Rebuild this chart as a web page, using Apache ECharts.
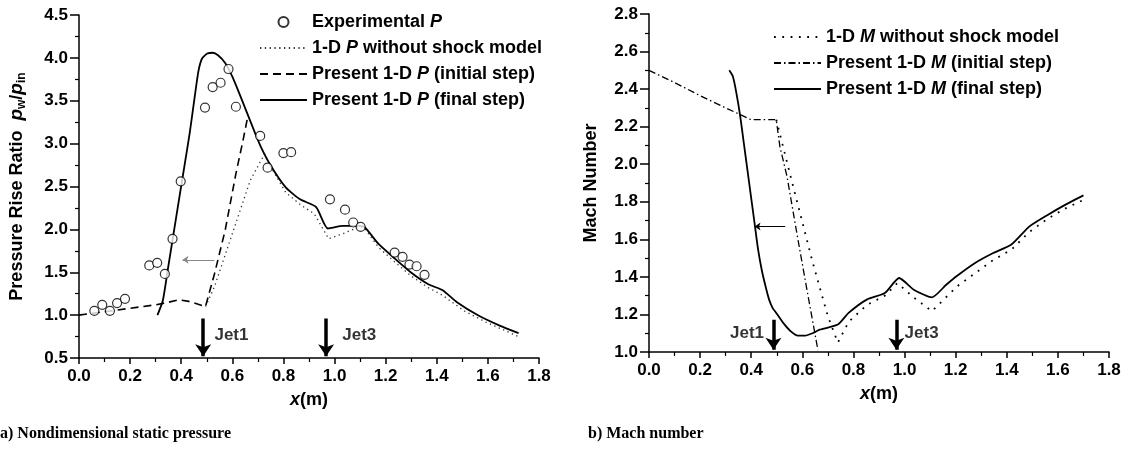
<!DOCTYPE html>
<html><head><meta charset="utf-8">
<script src="https://cdn.jsdelivr.net/npm/echarts/dist/echarts.min.js"></script>
<style>html,body{margin:0;padding:0;background:#fff}#c{width:1125px;height:454px}</style>
</head><body><div id="c"></div>
<script>
// ---------- (a) Nondimensional static pressure ----------
const expP = [[0.060,1.05],[0.091,1.12],[0.121,1.05],[0.149,1.14],[0.180,1.19],[0.275,1.58],[0.306,1.61],[0.336,1.48],[0.366,1.89],[0.398,2.56],[0.493,3.42],[0.523,3.66],[0.554,3.71],[0.585,3.87],[0.614,3.43],[0.709,3.09],[0.738,2.72],[0.800,2.89],[0.830,2.90],[0.982,2.35],[1.041,2.23],[1.073,2.08],[1.102,2.03],[1.235,1.73],[1.266,1.68],[1.293,1.59],[1.321,1.57],[1.352,1.47]];
const pNoShock = [[0.495,1.10],[0.53,1.33],[0.60,1.95],[0.67,2.57],[0.726,2.88],[0.76,2.68],[0.809,2.43],[0.87,2.28],[0.921,2.18],[0.977,1.89],[1.033,1.95],[1.088,2.02],[1.116,2.02],[1.172,1.79],[1.228,1.64],[1.298,1.46],[1.367,1.32],[1.423,1.23],[1.507,1.05],[1.591,0.92],[1.72,0.75]];
const pInitial = [[0,1.0],[0.1,1.04],[0.2,1.08],[0.3,1.12],[0.35,1.15],[0.39,1.18],[0.43,1.16],[0.495,1.10],[0.53,1.48],[0.572,1.99],[0.614,2.65],[0.642,3.04],[0.66,3.31]];
const pFinal = [[0.307,1.0],[0.328,1.17],[0.349,1.56],[0.370,1.95],[0.391,2.34],[0.412,2.73],[0.433,3.12],[0.453,3.55],[0.467,3.84],[0.481,3.99],[0.502,4.05],[0.523,4.06],[0.544,4.03],[0.572,3.94],[0.600,3.78],[0.628,3.58],[0.656,3.37],[0.684,3.16],[0.712,2.96],[0.753,2.73],[0.809,2.49],[0.865,2.35],[0.928,2.26],[0.974,2.01],[1.033,2.04],[1.088,2.04],[1.116,2.03],[1.172,1.83],[1.228,1.68],[1.298,1.50],[1.367,1.36],[1.423,1.29],[1.479,1.15],[1.563,0.995],[1.646,0.878],[1.72,0.79]];
const pShiftArrow = [[0.53,1.645],[0.405,1.645]];
const pJets = [['Jet1',0.486,0.96,0.52,0.53,0.76],['Jet3',0.967,0.96,0.52,1.03,0.76]];

// ---------- (b) Mach number ----------
const mNoShock = [[0.498,2.237],[0.555,1.93],[0.64,1.48],[0.70,1.19],[0.739,1.05],[0.781,1.16],[0.852,1.25],[0.923,1.30],[0.972,1.367],[1.036,1.29],[1.107,1.217],[1.206,1.35],[1.347,1.49],[1.418,1.545],[1.489,1.64],[1.560,1.71],[1.63,1.765],[1.70,1.81]];
const mInitial = [[0,2.50],[0.1,2.435],[0.2,2.365],[0.3,2.30],[0.4,2.237],[0.498,2.237],[0.512,2.095],[0.54,1.935],[0.583,1.598],[0.625,1.279],[0.661,1.01]];
const mFinal = [[0.314,2.50],[0.328,2.468],[0.342,2.379],[0.357,2.255],[0.371,2.113],[0.385,1.971],[0.399,1.829],[0.413,1.687],[0.427,1.545],[0.441,1.438],[0.456,1.35],[0.470,1.279],[0.484,1.234],[0.498,1.208],[0.526,1.154],[0.555,1.11],[0.583,1.087],[0.611,1.087],[0.64,1.10],[0.668,1.119],[0.739,1.146],[0.781,1.208],[0.852,1.279],[0.923,1.314],[0.979,1.394],[1.036,1.332],[1.107,1.291],[1.163,1.358],[1.206,1.406],[1.276,1.474],[1.347,1.527],[1.418,1.572],[1.489,1.669],[1.560,1.73],[1.630,1.785],[1.70,1.834]];
const mShiftArrow = [[0.533,1.669],[0.413,1.669]];
const mJets = [['Jet1',0.487,1.172,1.012,0.45,1.10,'left'],['Jet3',0.968,1.172,1.012,1.0,1.10,'right']];

const namesP = ['Experimental P','1-D P without shock model','Present 1-D P (initial step)','Present 1-D P (final step)'];
const namesM = ['1-D M without shock model','Present 1-D M (initial step)','Present 1-D M (final step)'];

const FF = '"Liberation Sans", Arial, sans-serif';
const BOLD = {fontFamily: FF, fontWeight: 'bold', color: '#000'};

function richName(name){
  const parts = name.split(/(?<=\s)([PM])(?=\s|$)/);
  return parts.map((p,i)=> p==='' ? '' : (i%2 ? '{i|'+p+'}' : '{b|'+p+'}')).join('');
}

function xAxis(grid){
  return {
    gridIndex: grid, type:'value', min:0, max:1.8, interval:0.2,
    name:'{i|x}{b|(m)}', nameLocation:'middle', nameGap:33,
    nameTextStyle:{rich:{i:Object.assign({fontStyle:'italic',fontSize:18},BOLD), b:Object.assign({fontSize:18},BOLD)}},
    axisLine:{lineStyle:{color:'#000',width:1.5}},
    axisTick:{length:6,lineStyle:{color:'#000',width:1.5}},
    minorTick:{show:true,splitNumber:2,length:4,lineStyle:{color:'#000',width:1.2}},
    splitLine:{show:false},
    axisLabel:Object.assign({fontSize:17,margin:10,formatter:v=>v.toFixed(1)},BOLD)
  };
}
function yAxis(grid,min,max,interval,name,gap,rich){
  return {
    gridIndex: grid, type:'value', min, max, interval,
    name, nameLocation:'middle', nameGap:gap, nameRotate:90,
    nameTextStyle: rich ? {rich} : Object.assign({fontSize:18},BOLD),
    axisLine:{lineStyle:{color:'#000',width:1.5}},
    axisTick:{length:9,lineStyle:{color:'#000',width:1.5}},
    minorTick:{show:true,splitNumber:2,length:4,lineStyle:{color:'#000',width:1.2}},
    splitLine:{show:false},
    axisLabel:Object.assign({fontSize:17,margin:11,formatter:v=>v.toFixed(1)},BOLD)
  };
}

const legendRich = {
  b:Object.assign({fontSize:18},BOLD),
  i:Object.assign({fontSize:18,fontStyle:'italic'},BOLD)
};
function legend(names,left,top,scatterName){
  return {
    data:names.map(n => n===scatterName ? {name:n} : {name:n, itemStyle:{opacity:0}}),
    orient:'vertical', left, top, itemWidth:47, itemHeight:10, itemGap:8,
    formatter:richName, textStyle:{rich:legendRich}, selectedMode:false
  };
}

const yNameRich = {
  t:Object.assign({fontSize:18},BOLD),
  i:Object.assign({fontSize:19,fontStyle:'italic'},BOLD),
  s:Object.assign({fontSize:12,padding:[10,0,0,0],verticalAlign:'bottom'},BOLD)
};

function jetSeries(jets,xi){
  return [{
    type:'lines', coordinateSystem:'cartesian2d', xAxisIndex:xi, yAxisIndex:xi,
    data: jets.map(j=>({coords:[[j[1],j[2]],[j[1],j[3]]]})),
    symbol:['none','arrow'], symbolSize:12, silent:true,
    lineStyle:{color:'#000',width:3.5,opacity:1}, z:5
  },{
    type:'scatter', xAxisIndex:xi, yAxisIndex:xi, symbolSize:0, silent:true,
    data: jets.map(j=>({value:[j[4],j[5]],label:{show:true,formatter:j[0],position:(j[6]||'right')==='left'?'left':'right',distance:0}})),
    label:Object.assign({fontSize:17},BOLD)
  }];
}
function shiftArrow(pts,xi,color){
  return {
    type:'lines', coordinateSystem:'cartesian2d', xAxisIndex:xi, yAxisIndex:xi,
    data:[{coords:pts}], symbol:['none','arrow'], symbolSize:6, silent:true,
    lineStyle:{color,width:1,opacity:1}
  };
}

const option = {
  animation:false,
  backgroundColor:'#fff',
  grid:[{left:79,top:15,width:460,height:343},{left:649,top:14,width:460,height:338}],
  xAxis:[xAxis(0),xAxis(1)],
  yAxis:[
    yAxis(0,0.5,4.5,0.5,'{t|Pressure Rise Ratio  }{i|p}{s|w}{t|/}{i|p}{s|in}',51,yNameRich),
    yAxis(1,1.0,2.8,0.2,'Mach Number',49)
  ],
  legend:[legend(namesP,254,8,namesP[0]),legend(namesM,768,23,null)],
  graphic:[
    {type:'text',left:0,top:426,style:{text:'a) Nondimensional static pressure',font:'bold 16px "Liberation Serif", "Times New Roman", serif',fill:'#000'}},
    {type:'text',left:588,top:426,style:{text:'b) Mach number',font:'bold 16px "Liberation Serif", "Times New Roman", serif',fill:'#000'}}
  ],
  series:[
    {name:namesP[1],type:'line',xAxisIndex:0,yAxisIndex:0,data:pNoShock,symbol:'none',lineStyle:{color:'#333',width:1.3,type:[1.3,3.5]},itemStyle:{color:'#333'}},
    {name:namesP[2],type:'line',xAxisIndex:0,yAxisIndex:0,data:pInitial,symbol:'none',lineStyle:{color:'#000',width:1.6,type:[8,5]},itemStyle:{color:'#000'}},
    {name:namesP[3],type:'line',xAxisIndex:0,yAxisIndex:0,data:pFinal,symbol:'none',smooth:0.2,lineStyle:{color:'#000',width:1.8},itemStyle:{color:'#000'}},
    {name:namesP[0],type:'scatter',xAxisIndex:0,yAxisIndex:0,data:expP,symbol:'circle',symbolSize:9,itemStyle:{color:'#fff',borderColor:'#000',borderWidth:1.2},z:4},
    shiftArrow(pShiftArrow,0,'#888'),
    ...jetSeries(pJets,0),
    {name:namesM[0],type:'line',xAxisIndex:1,yAxisIndex:1,data:mNoShock,symbol:'none',lineStyle:{color:'#000',width:1.8,type:[1.8,6.5]},itemStyle:{color:'#000'}},
    {name:namesM[1],type:'line',xAxisIndex:1,yAxisIndex:1,data:mInitial,symbol:'none',lineStyle:{color:'#000',width:1.3,type:[7,3,1.5,3]},itemStyle:{color:'#000'}},
    {name:namesM[2],type:'line',xAxisIndex:1,yAxisIndex:1,data:mFinal,symbol:'none',smooth:0.2,lineStyle:{color:'#000',width:1.8},itemStyle:{color:'#000'}},
    shiftArrow(mShiftArrow,1,'#000'),
    ...jetSeries(mJets,1)
  ]
};
const chart = echarts.init(document.getElementById('c'),null,{renderer:'canvas'});
chart.setOption(option);
</script>
</body></html>
